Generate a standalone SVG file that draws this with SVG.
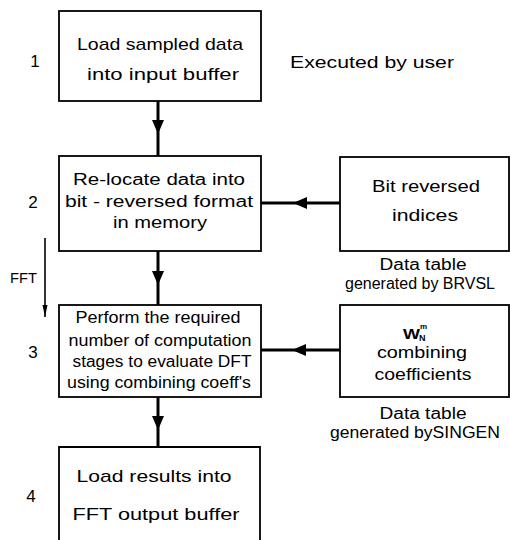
<svg xmlns="http://www.w3.org/2000/svg" width="510" height="540" viewBox="0 0 510 540">
<defs>
<marker id="ah" markerUnits="userSpaceOnUse" markerWidth="14" markerHeight="12" viewBox="0 0 14 12" refX="14" refY="6" orient="auto">
<path d="M0,0 L14,6 L0,12 Z" fill="#000"/>
</marker>
<marker id="ahs" markerUnits="userSpaceOnUse" markerWidth="12" markerHeight="6" viewBox="0 0 12 6" refX="12" refY="3" orient="auto">
<path d="M0,0.5 L12,3 L0,5.5 Z" fill="#000"/>
</marker>
</defs>
<style>
.box{fill:#fff;stroke:#000;stroke-width:1.8}
.open{fill:none;stroke:#000;stroke-width:1.8}
.conn{fill:none;stroke:#000;stroke-width:3;marker-mid:url(#ah)}
.thin{fill:none;stroke:#000;stroke-width:1.6;marker-end:url(#ahs)}
text{font-family:"Liberation Sans","DejaVu Sans",sans-serif;fill:#000}
.t{font-size:17px;text-anchor:middle}
.s{font-size:16px;text-anchor:middle}
.n{font-size:17px;text-anchor:middle}
</style>
<rect width="510" height="540" fill="#fff"/>
<g id="connectors">
<path class="conn" d="M158,101 L158,134 L158,156"/>
<path class="conn" d="M158,251 L158,285 L158,305"/>
<path class="conn" d="M158,397 L158,430 L158,447"/>
<path class="conn" d="M340,203 L293,203 L261,203"/>
<path class="conn" d="M340,350 L292,350 L261,350"/>
<path class="thin" d="M45,238 L45,317"/>
</g>
<g id="node1">
<rect class="box" x="59" y="11" width="202" height="90"/>
<text class="t" x="160" y="50" textLength="166" lengthAdjust="spacingAndGlyphs">Load sampled data</text>
<text class="t" x="163" y="80" textLength="152" lengthAdjust="spacingAndGlyphs">into input buffer</text>
</g>
<g id="node2">
<rect class="box" x="59" y="156" width="202" height="95"/>
<text class="s" x="159" y="185" textLength="172" lengthAdjust="spacingAndGlyphs">Re-locate data into</text>
<text class="s" x="159" y="207" textLength="188" lengthAdjust="spacingAndGlyphs">bit - reversed format</text>
<text class="s" x="160" y="228" textLength="94" lengthAdjust="spacingAndGlyphs">in memory</text>
</g>
<g id="node3">
<rect class="box" x="59" y="305" width="202" height="92"/>
<text class="s" x="158" y="323" textLength="165" lengthAdjust="spacingAndGlyphs">Perform the required</text>
<text class="s" x="160" y="346" textLength="183" lengthAdjust="spacingAndGlyphs">number of computation</text>
<text class="s" x="162" y="367" textLength="179" lengthAdjust="spacingAndGlyphs">stages to evaluate DFT</text>
<text class="s" x="159" y="388" textLength="184" lengthAdjust="spacingAndGlyphs">using combining coeff's</text>
</g>
<g id="node4">
<path class="open" d="M59,545 L59,447 L260,447 L260,545"/>
<text class="t" x="154" y="482" textLength="155" lengthAdjust="spacingAndGlyphs">Load results into</text>
<text class="t" x="156" y="520" textLength="167" lengthAdjust="spacingAndGlyphs">FFT output buffer</text>
</g>
<g id="bitrev">
<rect class="box" x="340" y="157" width="169" height="94"/>
<text class="s" x="426" y="192" textLength="108" lengthAdjust="spacingAndGlyphs">Bit reversed</text>
<text class="s" x="425" y="221" textLength="66" lengthAdjust="spacingAndGlyphs">indices</text>
<text class="s" x="423" y="270" textLength="87" lengthAdjust="spacingAndGlyphs">Data table</text>
<text class="s" x="420" y="289" textLength="150" lengthAdjust="spacingAndGlyphs">generated by BRVSL</text>
</g>
<g id="coeffs">
<rect class="box" x="340" y="305" width="169" height="92"/>
<text style="font-size:15px;font-weight:bold"><tspan x="403" y="339" textLength="17" lengthAdjust="spacingAndGlyphs">W</tspan><tspan x="419" y="341" style="font-size:9px">N</tspan><tspan x="420" y="329" style="font-size:8px">m</tspan></text>
<text class="s" x="422" y="358" textLength="90" lengthAdjust="spacingAndGlyphs">combining</text>
<text class="s" x="423" y="380" textLength="97" lengthAdjust="spacingAndGlyphs">coefficients</text>
<text class="s" x="423" y="419" textLength="87" lengthAdjust="spacingAndGlyphs">Data table</text>
<text class="s" x="415" y="438" textLength="170" lengthAdjust="spacingAndGlyphs">generated bySINGEN</text>
</g>
<g id="labels">
<text style="font-size:17px" x="290" y="68" textLength="164" lengthAdjust="spacingAndGlyphs">Executed by user</text>
<text class="n" x="35" y="67">1</text>
<text class="n" x="33" y="208">2</text>
<text class="n" x="33" y="358">3</text>
<text class="n" x="31" y="502">4</text>
<text style="font-size:15px" x="10" y="283" textLength="27" lengthAdjust="spacingAndGlyphs">FFT</text>
</g>
</svg>
